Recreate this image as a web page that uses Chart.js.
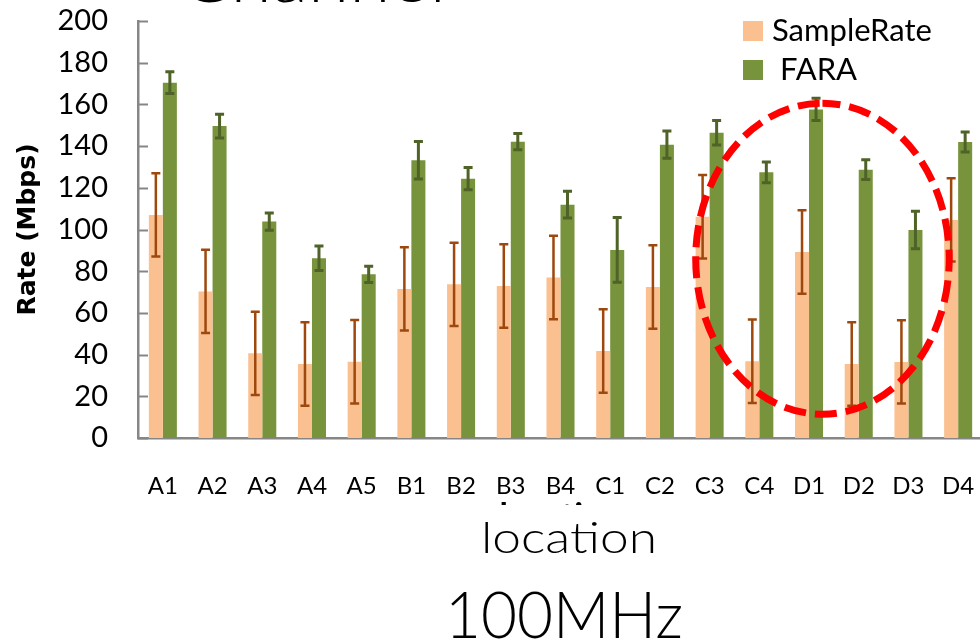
<!DOCTYPE html>
<html>
<head>
<meta charset="utf-8">
<title>Rate per location, 100MHz</title>
<script src="https://cdn.jsdelivr.net/npm/chart.js@4.4.1/dist/chart.umd.min.js"></script>
<style>
  html, body { margin: 0; padding: 0; background: #fff; overflow: hidden; width: 980px; height: 641px; }
  #wrap { position: relative; width: 980px; height: 641px; overflow: hidden; }
  #chart { position: absolute; left: 0; top: 0; }
  #slide { position: absolute; left: 0; top: 0; }
</style>
</head>
<body>
<div id="wrap">
  <canvas id="chart" width="990" height="641" style="width:990px;height:641px"></canvas>
  <svg id="slide" width="980" height="641" xmlns="http://www.w3.org/2000/svg">
    <text x="180" y="2" font-family="Lato" font-weight="300" font-size="66" fill="#000"
          textLength="266" lengthAdjust="spacingAndGlyphs">Channel</text>
    <rect x="400" y="505" width="330" height="62" fill="#fff"/>
    <text x="481" y="553" font-family="Lato" font-weight="300" font-size="44" fill="#000"
          textLength="176" lengthAdjust="spacingAndGlyphs">location</text>
    <text x="445" y="638" font-family="Lato" font-weight="300" font-size="66" fill="#000"
          textLength="238" lengthAdjust="spacingAndGlyphs">100MHz</text>
  </svg>
</div>
<script>
// Measurement locations
const locations = ['A1', 'A2', 'A3', 'A4', 'A5', 'B1', 'B2', 'B3', 'B4',
                   'C1', 'C2', 'C3', 'C4', 'D1', 'D2', 'D3', 'D4'];

// Mean rate (Mbps) and error half-width per location
const sampleRate    = [107, 70.3, 40.6, 35.5, 36.6, 71.5, 73.7, 72.9, 77.0,
                       41.7, 72.4, 106.1, 36.8, 89.2, 35.5, 36.5, 104.6];
const sampleRateErr = [20, 20, 20, 20, 20, 20, 20, 20, 20,
                       20, 20, 20, 20, 20, 20, 20, 20];
const fara          = [170.4, 149.6, 103.8, 86.2, 78.5, 133.2, 124.4, 142.1, 111.9,
                       90.2, 140.7, 146.4, 127.4, 157.6, 128.7, 99.8, 142.0];
const faraErr       = [5.2, 5.7, 4.1, 5.9, 3.9, 9.0, 5.3, 3.9, 6.4,
                       15.5, 6.5, 5.9, 5.0, 5.3, 4.7, 9.0, 4.8];

const yMin = 0, yMax = 200, yStep = 20;

// Highlighted region around C4..D3 (category index, value units)
const highlight = { cx: 13.27, cy: 86, rx: 2.55, ry: 74.6 };

const AXIS_GREY = '#868686';

// Error bars (whiskers with caps) centred on each bar
const errorBars = {
  id: 'errorBars',
  afterDatasetsDraw(chart, args, opts) {
    const { ctx } = chart;
    const y = chart.scales.y;
    chart.data.datasets.forEach((ds, i) => {
      const meta = chart.getDatasetMeta(i);
      const errs = opts.errors[i];
      const st = opts.styles[i];
      ctx.save();
      ctx.strokeStyle = st.color;
      ctx.lineWidth = st.width;
      ctx.lineCap = 'butt';
      meta.data.forEach((bar, j) => {
        const v = ds.data[j], e = errs[j];
        const top = y.getPixelForValue(v + e);
        const bot = y.getPixelForValue(v - e);
        const x = bar.x;
        ctx.beginPath();
        ctx.moveTo(x, top); ctx.lineTo(x, bot);
        ctx.moveTo(x - opts.cap, top); ctx.lineTo(x + opts.cap, top);
        ctx.moveTo(x - opts.cap, bot); ctx.lineTo(x + opts.cap, bot);
        ctx.stroke();
      });
      ctx.restore();
    });
  }
};

// Tick marks on the inside of the value axis
const innerTicks = {
  id: 'innerTicks',
  afterDraw(chart, args, opts) {
    const { ctx, chartArea } = chart;
    const y = chart.scales.y;
    ctx.save();
    ctx.strokeStyle = opts.color;
    ctx.lineWidth = opts.width;
    y.ticks.forEach(t => {
      const py = Math.round(y.getPixelForValue(t.value)) + 0.5;
      ctx.beginPath();
      ctx.moveTo(chartArea.left, py);
      ctx.lineTo(chartArea.left + opts.length, py);
      ctx.stroke();
    });
    ctx.restore();
  }
};

// Dashed red ellipse, placed in data coordinates
const ellipseMark = {
  id: 'ellipseMark',
  afterDatasetsDraw(chart, args, opts) {
    const { ctx } = chart;
    const x = chart.scales.x, y = chart.scales.y;
    const h = opts.shape;
    const cx = x.getPixelForValue(h.cx);
    const cy = y.getPixelForValue(h.cy);
    const rx = Math.abs(x.getPixelForValue(h.cx + h.rx) - cx);
    const ry = Math.abs(y.getPixelForValue(h.cy + h.ry) - cy);
    ctx.save();
    ctx.strokeStyle = opts.color;
    ctx.lineWidth = opts.width;
    ctx.setLineDash(opts.dash);
    ctx.lineDashOffset = opts.dashOffset;
    ctx.beginPath();
    ctx.ellipse(cx, cy, rx, ry, 0, -Math.PI / 2, Math.PI * 1.5);
    ctx.stroke();
    ctx.restore();
  }
};

// Legend box in the upper right of the plot
const legendBox = {
  id: 'legendBox',
  afterDraw(chart, args, opts) {
    const { ctx } = chart;
    ctx.save();
    ctx.font = opts.font;
    ctx.textBaseline = 'middle';
    ctx.textAlign = 'left';
    chart.data.datasets.forEach((ds, i) => {
      const top = opts.y + i * opts.rowGap;
      ctx.fillStyle = ds.backgroundColor;
      ctx.fillRect(opts.x, top, opts.box, opts.box);
      ctx.fillStyle = '#000';
      ctx.fillText(ds.label, opts.x + opts.box + opts.gap, top + opts.box / 2);
    });
    ctx.restore();
  }
};

function build() {
  const ctx = document.getElementById('chart').getContext('2d');
  new Chart(ctx, {
    type: 'bar',
    data: {
      labels: locations,
      datasets: [
        { label: 'SampleRate', data: sampleRate, backgroundColor: '#FAC090',
          borderWidth: 0, categoryPercentage: 0.564, barPercentage: 1.0 },
        { label: ' FARA', data: fara, backgroundColor: '#77933C',
          borderWidth: 0, categoryPercentage: 0.564, barPercentage: 1.0 }
      ]
    },
    options: {
      responsive: false,
      animation: false,
      events: [],
      layout: { padding: { left: 0, right: 7, top: 21, bottom: 104 } },
      plugins: {
        legend: { display: false },
        tooltip: { enabled: false },
        errorBars: {
          errors: [sampleRateErr, faraErr],
          styles: [{ color: '#9E480E', width: 2.5 }, { color: '#4F6228', width: 3 }],
          cap: 4.5
        },
        innerTicks: { color: AXIS_GREY, width: 2, length: 10 },
        ellipseMark: { shape: highlight, color: '#FF0000', width: 7, dash: [22, 9], dashOffset: 4 },
        legendBox: { x: 743, y: 21, box: 20, rowGap: 39, gap: 9, font: '31px Lato' }
      },
      scales: {
        x: {
          grid: { display: false, drawTicks: false },
          border: { display: true, color: AXIS_GREY, width: 2.5 },
          ticks: { color: '#000', font: { family: 'Lato', size: 24 }, padding: 34,
                   maxRotation: 0, autoSkip: false },
          title: { display: true, text: 'location', color: '#000',
                   font: { family: 'Lato', size: 34, weight: 'bold' }, padding: 0 },
          afterFit(scale) {
            scale.height = 99;
            scale.paddingLeft = 0;
            scale.paddingRight = 0;
          }
        },
        y: {
          min: yMin, max: yMax,
          grid: { display: false, drawTicks: false },
          border: { display: true, color: AXIS_GREY, width: 2.5 },
          ticks: { stepSize: yStep, color: '#000', font: { family: 'Lato', size: 29 }, padding: 30 },
          title: { display: true, text: 'Rate (Mbps)', color: '#000',
                   font: { family: 'DejaVu Sans', size: 25, weight: 'bold' },
                   padding: { top: 13, bottom: 0 } },
          afterFit(scale) {
            scale.width = 138;
            scale.paddingTop = 0;
            scale.paddingBottom = 0;
          }
        }
      }
    },
    plugins: [errorBars, ellipseMark, innerTicks, legendBox]
  });
}

Promise.all([
  document.fonts.load('29px Lato'),
  document.fonts.load('bold 34px Lato'),
  document.fonts.load('300 44px Lato'),
  document.fonts.load('bold 25px "DejaVu Sans"')
]).then(build, build);
</script>
</body>
</html>
